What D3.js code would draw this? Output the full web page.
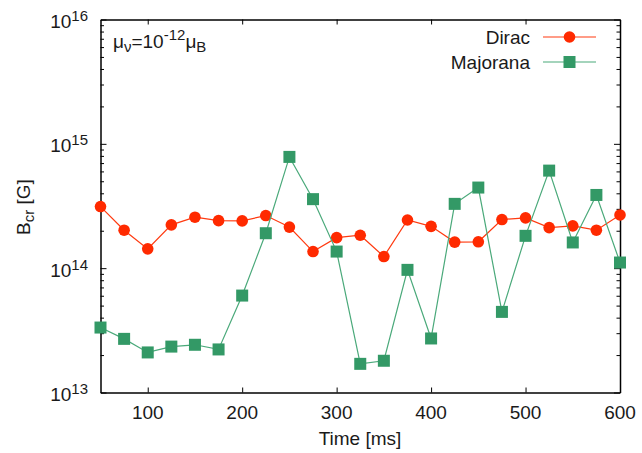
<!DOCTYPE html>
<html>
<head>
<meta charset="utf-8">
<script src="https://cdn.jsdelivr.net/npm/d3@7"></script>
<style>
  body { margin: 0; background: #fff; }
  text { font-family: "Liberation Sans", Arial, sans-serif; fill: #1a1a1a; }
</style>
</head>
<body>
<div id="chart"></div>
<script>
var svgWidth = 642;
var svgHeight = 453;

var margin = { top: 19.5, right: 22, bottom: 60.5, left: 100.5 };
var width = svgWidth - margin.left - margin.right;
var height = svgHeight - margin.top - margin.bottom;

var fontBig = "19px";
var fontSmall = "15px";

// data
var times = [50, 75, 100, 125, 150, 175, 200, 225, 250, 275, 300, 325,
             350, 375, 400, 425, 450, 475, 500, 525, 550, 575, 600];
var dirac = [3.13e14, 2.02e14, 1.43e14, 2.23e14, 2.57e14, 2.41e14, 2.40e14, 2.65e14,
             2.14e14, 1.36e14, 1.76e14, 1.84e14, 1.24e14, 2.44e14, 2.17e14, 1.62e14,
             1.63e14, 2.46e14, 2.54e14, 2.12e14, 2.19e14, 2.02e14, 2.68e14];
var majorana = [3.33e13, 2.70e13, 2.10e13, 2.34e13, 2.42e13, 2.22e13, 6.02e13, 1.91e14,
                7.85e14, 3.59e14, 1.36e14, 1.70e13, 1.80e13, 9.69e13, 2.72e13, 3.29e14,
                4.45e14, 4.45e13, 1.82e14, 6.09e14, 1.61e14, 3.88e14, 1.11e14];
var xTicks = [100, 200, 300, 400, 500, 600];
var yExponents = [13, 14, 15, 16];

var svg = d3.select("#chart")
  .append("svg")
  .attr("width", svgWidth)
  .attr("height", svgHeight);

var chartGroup = svg.append("g")
  .attr("transform", `translate(${margin.left}, ${margin.top})`);

var xScale = d3.scaleLinear().domain([50, 600]).range([0, width]);
var yScale = d3.scaleLog().domain([1e13, 1e16]).range([height, 0]);

var majorY = yExponents.map(e => Math.pow(10, e));
var minorY = [];
for (var e = 13; e < 16; e++) {
  for (var m = 2; m <= 9; m++) minorY.push(m * Math.pow(10, e));
}

function styleAxis(g) {
  g.selectAll("path").attr("stroke", "#000").attr("stroke-width", 1.5);
  g.selectAll("line").attr("stroke", "#000").attr("stroke-width", 1);
  g.selectAll("text").remove();
}

// bottom + top x axes (ticks inward)
chartGroup.append("g")
  .attr("transform", `translate(0, ${height})`)
  .call(d3.axisBottom(xScale).tickValues(xTicks).tickSizeInner(-5).tickSizeOuter(0))
  .call(styleAxis);
chartGroup.append("g")
  .call(d3.axisTop(xScale).tickValues(xTicks).tickSizeInner(-5).tickSizeOuter(0))
  .call(styleAxis);

// left + right y axes, major and minor
chartGroup.append("g")
  .call(d3.axisLeft(yScale).tickValues(majorY).tickSizeInner(-6).tickSizeOuter(0))
  .call(styleAxis);
chartGroup.append("g")
  .call(d3.axisLeft(yScale).tickValues(minorY).tickSizeInner(-3.5).tickSizeOuter(0))
  .call(styleAxis).select("path").remove();
chartGroup.append("g")
  .attr("transform", `translate(${width}, 0)`)
  .call(d3.axisRight(yScale).tickValues(majorY).tickSizeInner(-6).tickSizeOuter(0))
  .call(styleAxis);
chartGroup.append("g")
  .attr("transform", `translate(${width}, 0)`)
  .call(d3.axisRight(yScale).tickValues(minorY).tickSizeInner(-3.5).tickSizeOuter(0))
  .call(styleAxis).select("path").remove();

// x tick labels
chartGroup.selectAll(".xlab")
  .data(xTicks)
  .enter()
  .append("text")
  .attr("x", d => xScale(d))
  .attr("y", height + 26.5)
  .attr("text-anchor", "middle")
  .style("font-size", fontBig)
  .text(d => d);

// y tick labels 10^n
yExponents.forEach(function(ex) {
  var t = chartGroup.append("text")
    .attr("x", -12.5)
    .attr("y", yScale(Math.pow(10, ex)) + 8.6)
    .attr("text-anchor", "end")
    .style("font-size", fontBig);
  t.append("tspan").text("10");
  t.append("tspan").attr("dy", -7).style("font-size", fontSmall).text(ex);
});

// axis titles
svg.append("text")
  .attr("x", 360)
  .attr("y", 445)
  .attr("text-anchor", "middle")
  .style("font-size", fontBig)
  .text("Time [ms]");

var yTitle = svg.append("text")
  .attr("transform", "translate(30, 207) rotate(-90)")
  .attr("text-anchor", "middle")
  .style("font-size", fontBig);
yTitle.append("tspan").text("B");
yTitle.append("tspan").attr("dy", 4).style("font-size", fontSmall).text("cr");
yTitle.append("tspan").attr("dy", -4).text(" [G]");

// annotation
var note = svg.append("text")
  .attr("x", 113)
  .attr("y", 48)
  .style("font-size", fontBig);
note.append("tspan").text("\u03bc");
note.append("tspan").attr("dy", 4).style("font-size", fontSmall).text("\u03bd");
note.append("tspan").attr("dy", -4).text("=10");
note.append("tspan").attr("dy", -8).style("font-size", fontSmall).text("-12");
note.append("tspan").attr("dy", 8).text("\u03bc");
note.append("tspan").attr("dy", 4).style("font-size", fontSmall).text("B");

var series = [
  { name: "Dirac", values: dirac, color: "#ff2a00", line: "#ff3a10", shape: "circle" },
  { name: "Majorana", values: majorana, color: "#339966", line: "#4aa97a", shape: "square" }
];

var line = d3.line()
  .x(d => xScale(d[0]))
  .y(d => yScale(d[1]));

function drawMarker(g, shape, color) {
  if (shape === "circle") {
    g.append("circle").attr("r", 5.8).attr("fill", color);
  } else {
    g.append("rect").attr("x", -6).attr("y", -6).attr("width", 12).attr("height", 12).attr("fill", color);
  }
}

series.forEach(function(s) {
  var pts = times.map((t, i) => [t, s.values[i]]);
  chartGroup.append("path")
    .datum(pts)
    .attr("d", line)
    .attr("fill", "none")
    .attr("stroke", s.line)
    .attr("stroke-width", 1.2);
  chartGroup.selectAll(".pt-" + s.shape)
    .data(pts)
    .enter()
    .append("g")
    .attr("class", "pt-" + s.shape)
    .attr("transform", d => `translate(${xScale(d[0])}, ${yScale(d[1])})`)
    .each(function() { drawMarker(d3.select(this), s.shape, s.color); });
});

// legend
series.forEach(function(s, i) {
  var yy = 37 + i * 25;
  svg.append("text")
    .attr("x", 530)
    .attr("y", yy + 6.5)
    .attr("text-anchor", "end")
    .style("font-size", fontBig)
    .text(s.name);
  svg.append("line")
    .attr("x1", 543).attr("x2", 596)
    .attr("y1", yy).attr("y2", yy)
    .attr("stroke", s.line)
    .attr("stroke-width", 1.2);
  var g = svg.append("g").attr("transform", `translate(569.5, ${yy})`);
  drawMarker(g, s.shape, s.color);
});
</script>
</body>
</html>
